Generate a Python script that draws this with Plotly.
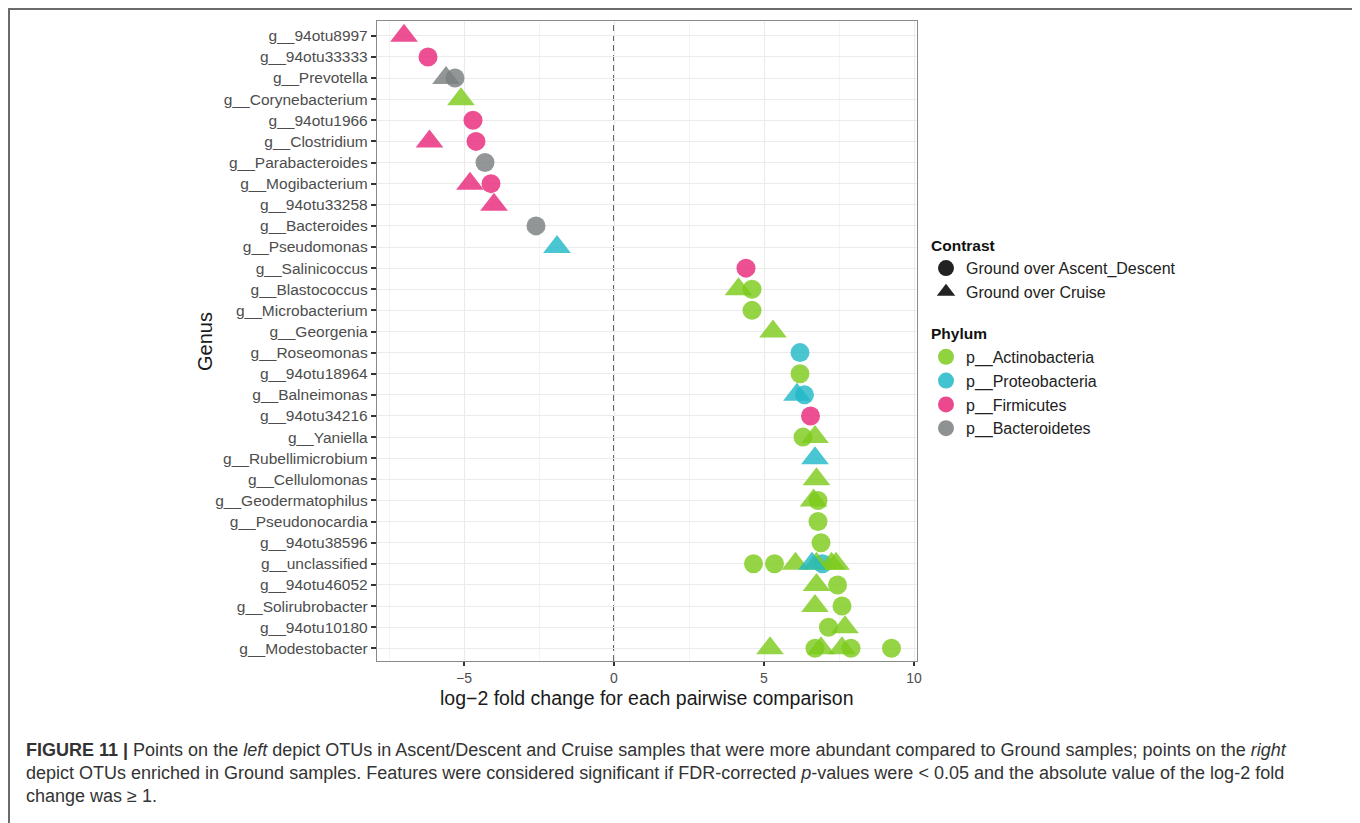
import plotly.graph_objects as go

# ---------------- data ----------------
genera = ["g__94otu8997", "g__94otu33333", "g__Prevotella", "g__Corynebacterium",
          "g__94otu1966", "g__Clostridium", "g__Parabacteroides", "g__Mogibacterium",
          "g__94otu33258", "g__Bacteroides", "g__Pseudomonas", "g__Salinicoccus",
          "g__Blastococcus", "g__Microbacterium", "g__Georgenia", "g__Roseomonas",
          "g__94otu18964", "g__Balneimonas", "g__94otu34216", "g__Yaniella",
          "g__Rubellimicrobium", "g__Cellulomonas", "g__Geodermatophilus",
          "g__Pseudonocardia", "g__94otu38596", "g__unclassified", "g__94otu46052",
          "g__Solirubrobacter", "g__94otu10180", "g__Modestobacter"]

contrasts = ["Ground over Ascent_Descent", "Ground over Cruise"]
phyla = ["p__Actinobacteria", "p__Proteobacteria", "p__Firmicutes", "p__Bacteroidetes"]

pt_genus = ["g__94otu8997", "g__94otu33333", "g__Prevotella", "g__Prevotella",
            "g__Corynebacterium", "g__94otu1966", "g__Clostridium", "g__Clostridium",
            "g__Parabacteroides", "g__Mogibacterium", "g__Mogibacterium", "g__94otu33258",
            "g__Bacteroides", "g__Pseudomonas", "g__Salinicoccus", "g__Blastococcus",
            "g__Blastococcus", "g__Microbacterium", "g__Georgenia", "g__Roseomonas",
            "g__94otu18964", "g__Balneimonas", "g__Balneimonas", "g__94otu34216",
            "g__Yaniella", "g__Yaniella", "g__Rubellimicrobium", "g__Cellulomonas",
            "g__Geodermatophilus", "g__Geodermatophilus", "g__Pseudonocardia", "g__94otu38596",
            "g__unclassified", "g__unclassified", "g__unclassified", "g__unclassified",
            "g__unclassified", "g__unclassified", "g__unclassified", "g__unclassified",
            "g__94otu46052", "g__94otu46052", "g__Solirubrobacter", "g__Solirubrobacter",
            "g__94otu10180", "g__94otu10180", "g__Modestobacter", "g__Modestobacter",
            "g__Modestobacter", "g__Modestobacter", "g__Modestobacter", "g__Modestobacter"]
pt_lfc = [-7.0, -6.2, -5.6, -5.3,
          -5.1, -4.7, -6.15, -4.6,
          -4.3, -4.8, -4.1, -4.0,
          -2.6, -1.9, 4.4, 4.15,
          4.6, 4.6, 5.3, 6.2,
          6.2, 6.1, 6.35, 6.55,
          6.3, 6.7, 6.7, 6.75,
          6.65, 6.8, 6.8, 6.9,
          4.65, 5.35, 6.05, 6.6,
          6.95, 6.75, 7.25, 7.4,
          6.75, 7.45, 6.7, 7.6,
          7.15, 7.7, 5.2, 6.7,
          6.9, 7.6, 7.9, 9.25]
pt_contrast = ["T", "C", "T", "C",
               "T", "C", "T", "C",
               "C", "T", "C", "T",
               "C", "T", "C", "T",
               "C", "C", "T", "C",
               "C", "T", "C", "C",
               "C", "T", "T", "T",
               "T", "C", "C", "C",
               "C", "C", "T", "T",
               "C", "T", "T", "T",
               "T", "C", "T", "C",
               "C", "T", "T", "C",
               "T", "T", "C", "C"]
pt_phylum = ["F", "F", "B", "B",
             "A", "F", "F", "F",
             "B", "F", "F", "F",
             "B", "P", "F", "A",
             "A", "A", "A", "P",
             "A", "P", "P", "F",
             "A", "A", "P", "A",
             "A", "A", "A", "A",
             "A", "A", "A", "P",
             "P", "A", "A", "A",
             "A", "A", "A", "A",
             "A", "A", "A", "A",
             "A", "A", "A", "A"]

x_ticks = [-5, 0, 5, 10]

# ---------------- styles ----------------
phylum_key = {"A": "p__Actinobacteria", "P": "p__Proteobacteria",
              "F": "p__Firmicutes", "B": "p__Bacteroidetes"}
phylum_color = {"p__Actinobacteria": "#7ccb1c", "p__Proteobacteria": "#22b8c8",
                "p__Firmicutes": "#e8287a", "p__Bacteroidetes": "#7a7f80"}
contrast_key = {"C": "Ground over Ascent_Descent", "T": "Ground over Cruise"}
contrast_symbol = {"Ground over Ascent_Descent": "circle", "Ground over Cruise": "triangle-up"}
contrast_size = {"Ground over Ascent_Descent": 19, "Ground over Cruise": 24}

FONT = "Liberation Sans, Arial, Helvetica, sans-serif"
OFF = 8  # default page body margin
W, H = 1360 - OFF, 823 - OFF
L, R, T, B = 377 - OFF, 917 - OFF, 21 - OFF, 661 - OFF
PW, PH = R - L, B - T


def px(xp):
    return (xp - OFF - L) / PW


def py(yp):
    return (B - (yp - OFF)) / PH


fig = go.Figure()

for c in contrasts:
    for p in phyla:
        xs, ys = [], []
        for g, v, cc, pp in zip(pt_genus, pt_lfc, pt_contrast, pt_phylum):
            if contrast_key[cc] == c and phylum_key[pp] == p:
                xs.append(v)
                ys.append(g)
        if not xs:
            continue
        fig.add_trace(go.Scatter(
            x=xs, y=ys, mode="markers", showlegend=False,
            marker=dict(symbol=contrast_symbol[c], size=contrast_size[c],
                        color=phylum_color[p], opacity=0.82, line=dict(width=0)),
            hoverinfo="x+y"))

# legend entries
for i, c in enumerate(contrasts):
    fig.add_trace(go.Scatter(
        x=[None], y=[None], mode="markers", name=c, legendgroup="contrast",
        legendgrouptitle=dict(text="<b>Contrast</b>") if i == 0 else None,
        marker=dict(symbol=contrast_symbol[c], size=17, color="#222222")))
for i, p in enumerate(phyla):
    fig.add_trace(go.Scatter(
        x=[None], y=[None], mode="markers", name=p, legendgroup="phylum",
        legendgrouptitle=dict(text="<b>Phylum</b>") if i == 0 else None,
        marker=dict(symbol="circle", size=17, color=phylum_color[p], opacity=0.85)))

# dashed zero line
fig.add_shape(type="line", xref="x", yref="paper", x0=0, x1=0, y0=0, y1=1,
              line=dict(color="#444444", width=1.6, dash="6px,4px"), layer="below")

# outer figure frame (left/top edges sit at the page edge of the figure)
fig.add_shape(type="rect", xref="paper", yref="paper",
              x0=px(OFF + 1), x1=px(1355), y0=py(OFF + 1), y1=py(850),
              line=dict(color="#6b6b6b", width=2), fillcolor="rgba(0,0,0,0)")

# axis titles
fig.add_annotation(text="log\u22122 fold change for each pairwise comparison",
                   xref="paper", yref="paper", x=0.5, y=py(698),
                   xanchor="center", yanchor="middle", showarrow=False,
                   font=dict(family=FONT, size=19.5, color="#1a1a1a"))
fig.add_annotation(text="Genus", textangle=-90,
                   xref="paper", yref="paper", x=px(205), y=py(342),
                   xanchor="center", yanchor="middle", showarrow=False,
                   font=dict(family=FONT, size=20, color="#1a1a1a"))

# caption
cap_lines = [
    "<b>FIGURE 11 |</b> Points on the <i>left</i> depict OTUs in Ascent/Descent and Cruise samples that were more abundant compared to Ground samples; points on the <i>right</i>",
    "depict OTUs enriched in Ground samples. Features were considered significant if FDR-corrected <i>p</i>-values were &lt; 0.05 and the absolute value of the log-2 fold",
    "change was \u2265 1.",
]
cap_y = [750, 773, 796]
for txt, yy in zip(cap_lines, cap_y):
    fig.add_annotation(text=txt, xref="paper", yref="paper", x=px(24), y=py(yy),
                       xanchor="left", yanchor="middle", showarrow=False,
                       font=dict(family=FONT, size=18, color="#333333"))

fig.update_xaxes(
    range=[-7.9, 10.1], tickmode="array", tickvals=x_ticks,
    ticktext=["\u22125", "0", "5", "10"],
    ticks="outside", ticklen=4, tickwidth=1.5, tickcolor="#333333",
    tickfont=dict(family=FONT, size=14, color="#4d4d4d"),
    showgrid=True, gridcolor="#ebebeb", gridwidth=1.2,
    minor=dict(tickmode="array", tickvals=[-7.5, -2.5, 2.5, 7.5], showgrid=True,
               gridcolor="#f4f4f4", gridwidth=0.8, ticks=""),
    showline=True, mirror=True, linecolor="#8a8a8a", linewidth=1.3,
    zeroline=False,
)
fig.update_yaxes(
    type="category", categoryorder="array", categoryarray=genera,
    range=[len(genera) - 0.4, -0.7],
    ticks="outside", ticklen=5, tickwidth=1.5, tickcolor="#333333",
    tickfont=dict(family=FONT, size=15.5, color="#4d4d4d"),
    showgrid=True, gridcolor="#ebebeb", gridwidth=1.2,
    showline=True, mirror=True, linecolor="#8a8a8a", linewidth=1.3,
    zeroline=False,
)

fig.update_layout(
    width=W, height=H,
    margin=dict(l=L, r=W - R, t=T, b=H - B, autoexpand=False),
    paper_bgcolor="white", plot_bgcolor="white",
    font=dict(family=FONT, color="#222222"),
    legend=dict(x=px(926), y=py(228), xanchor="left", yanchor="top",
                traceorder="grouped", tracegroupgap=18,
                font=dict(family=FONT, size=16, color="#222222"),
                grouptitlefont=dict(family=FONT, size=15.5, color="#111111"),
                itemsizing="trace", bgcolor="rgba(0,0,0,0)"),
)

fig.write_html("out.html")
